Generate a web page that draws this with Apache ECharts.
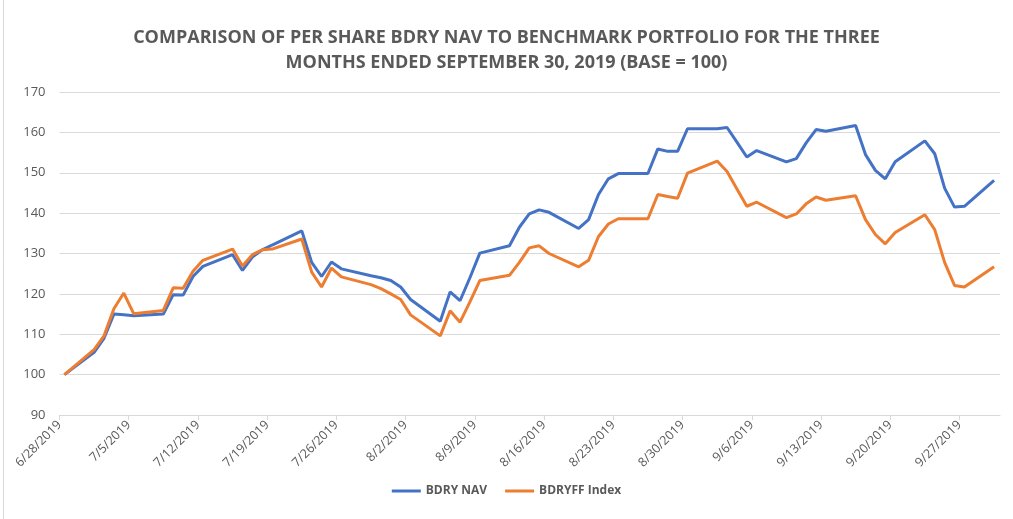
<!DOCTYPE html>
<html>
<head>
<meta charset="utf-8">
<script src="https://cdn.jsdelivr.net/npm/echarts@6/dist/echarts.min.js"></script>
<style>
  html, body { margin: 0; padding: 0; background: #fff; }
  #chart { width: 1013px; height: 519px; }
</style>
</head>
<body>
<div id="chart"></div>
<script>
// trading days, 6/28/2019 - 9/30/2019
var dates = [
  '6/28/2019', '7/1/2019', '7/2/2019', '7/3/2019', '7/4/2019', '7/5/2019',
  '7/8/2019', '7/9/2019', '7/10/2019', '7/11/2019', '7/12/2019',
  '7/15/2019', '7/16/2019', '7/17/2019', '7/18/2019', '7/19/2019',
  '7/22/2019', '7/23/2019', '7/24/2019', '7/25/2019', '7/26/2019',
  '7/29/2019', '7/30/2019', '7/31/2019', '8/1/2019', '8/2/2019',
  '8/5/2019', '8/6/2019', '8/7/2019', '8/8/2019', '8/9/2019',
  '8/12/2019', '8/13/2019', '8/14/2019', '8/15/2019', '8/16/2019',
  '8/19/2019', '8/20/2019', '8/21/2019', '8/22/2019', '8/23/2019',
  '8/26/2019', '8/27/2019', '8/28/2019', '8/29/2019', '8/30/2019',
  '9/2/2019', '9/3/2019', '9/4/2019', '9/5/2019', '9/6/2019',
  '9/9/2019', '9/10/2019', '9/11/2019', '9/12/2019', '9/13/2019',
  '9/16/2019', '9/17/2019', '9/18/2019', '9/19/2019', '9/20/2019',
  '9/23/2019', '9/24/2019', '9/25/2019', '9/26/2019', '9/27/2019',
  '9/30/2019'
];

var bdryNav = [
  100, 105.5, 109, 115, 114.8, 114.6,
  115, 119.8, 119.7, 124.3, 126.8,
  129.7, 125.8, 129.1, 130.9, 132.1,
  135.6, 127.8, 124.3, 127.9, 126.2,
  124.5, 124, 123.3, 121.7, 118.6,
  113.2, 120.5, 118.3, 124, 130.1,
  131.9, 136.5, 139.8, 140.8, 140.2,
  136.2, 138.4, 144.6, 148.5, 149.8,
  149.8, 155.9, 155.3, 155.3, 160.9,
  160.9, 161.2, 157.6, 153.9, 155.5,
  152.7, 153.5, 157.4, 160.7, 160.3,
  161.7, 154.5, 150.6, 148.5, 152.7,
  157.9, 154.7, 146.2, 141.5, 141.7,
  148.1
];

var bdryffIndex = [
  100, 106.2, 109.6, 116.3, 120.2, 115.1,
  115.9, 121.5, 121.4, 125.6, 128.3,
  131.1, 126.9, 129.7, 130.9, 131.1,
  133.6, 125.4, 121.7, 126.4, 124.2,
  122.3, 121.3, 120, 118.6, 114.8,
  109.6, 115.8, 113, 118, 123.3,
  124.6, 127.8, 131.4, 131.9, 130,
  126.7, 128.3, 134.2, 137.3, 138.6,
  138.6, 144.6, 144.1, 143.7, 149.9,
  152.9, 150.3, 146, 141.7, 142.7,
  138.9, 139.8, 142.3, 144, 143.2,
  144.3, 138.4, 134.7, 132.4, 135.2,
  139.6, 135.9, 127.8, 122.1, 121.7,
  126.7
];

var titleLines = [
  'COMPARISON OF PER SHARE BDRY NAV TO BENCHMARK PORTFOLIO FOR THE THREE',
  'MONTHS ENDED SEPTEMBER 30, 2019 (BASE = 100)'
];

var yTicks = [90, 100, 110, 120, 130, 140, 150, 160, 170];

var DAY = 86400000;
function parseDate(s) {
  var p = s.split('/');
  return Date.UTC(+p[2], +p[0] - 1, +p[1]);
}
var start = parseDate(dates[0]);

// day offset from 6/28, point sits in the middle of its day slot (like excel date axis)
function toPoints(values) {
  return values.map(function (v, i) {
    return [(parseDate(dates[i]) - start) / DAY + 0.5, v];
  });
}

function dayLabel(v) {
  if (v % 7 !== 0) return '';
  var d = new Date(start + v * DAY);
  return (d.getUTCMonth() + 1) + '/' + d.getUTCDate() + '/' + d.getUTCFullYear();
}

var grey = '#595959';
var font = '"Open Sans", sans-serif';

var chart = echarts.init(document.getElementById('chart'), null, { renderer: 'canvas' });

var titleStyle = {
  fontFamily: font,
  fontSize: 18,
  fontWeight: 'bold',
  color: grey
};

var option = {
  animation: false,
  color: ['#4472C4', '#ED7D31'],
  textStyle: { fontFamily: font },
  title: titleLines.map(function (t, i) {
    return { text: t, left: 'center', top: 29 + i * 24.5, padding: 0, textStyle: titleStyle };
  }),
  legend: {
    bottom: 17,
    left: 'center',
    icon: 'rect',
    itemWidth: 29,
    itemHeight: 3,
    itemGap: 18,
    textStyle: { fontSize: 12, fontWeight: 'bold', color: grey, fontFamily: font },
    data: ['BDRY NAV', 'BDRYFF Index']
  },
  grid: {
    left: 59.5,
    right: 13,
    top: 92,
    bottom: 104
  },
  xAxis: {
    type: 'value',
    min: 0,
    max: 95.1,
    interval: 7,
    splitLine: { show: false },
    axisLine: { show: true, lineStyle: { color: '#d9d9d9', width: 1 } },
    axisTick: { show: true, length: 5, lineStyle: { color: '#d9d9d9' } },
    axisLabel: {
      rotate: 45,
      margin: 8,
      fontSize: 12.5,
      color: grey,
      fontFamily: font,
      showMaxLabel: false,
      formatter: dayLabel
    }
  },
  yAxis: {
    type: 'value',
    min: yTicks[0],
    max: yTicks[yTicks.length - 1],
    interval: 10,
    axisLine: { show: false },
    axisTick: { show: false },
    splitLine: { lineStyle: { color: '#d9d9d9', width: 1 } },
    axisLabel: { fontSize: 13, color: grey, margin: 14, fontFamily: font }
  },
  graphic: [{
    type: 'line',
    shape: { x1: 3.5, y1: 0, x2: 3.5, y2: 519 },
    style: { stroke: '#d9d9d9', lineWidth: 1 }
  }],
  series: [{
    name: 'BDRY NAV',
    type: 'line',
    data: toPoints(bdryNav),
    showSymbol: false,
    lineStyle: { width: 3 }
  }, {
    name: 'BDRYFF Index',
    type: 'line',
    data: toPoints(bdryffIndex),
    showSymbol: false,
    lineStyle: { width: 3 }
  }]
};

chart.setOption(option);
</script>
</body>
</html>
